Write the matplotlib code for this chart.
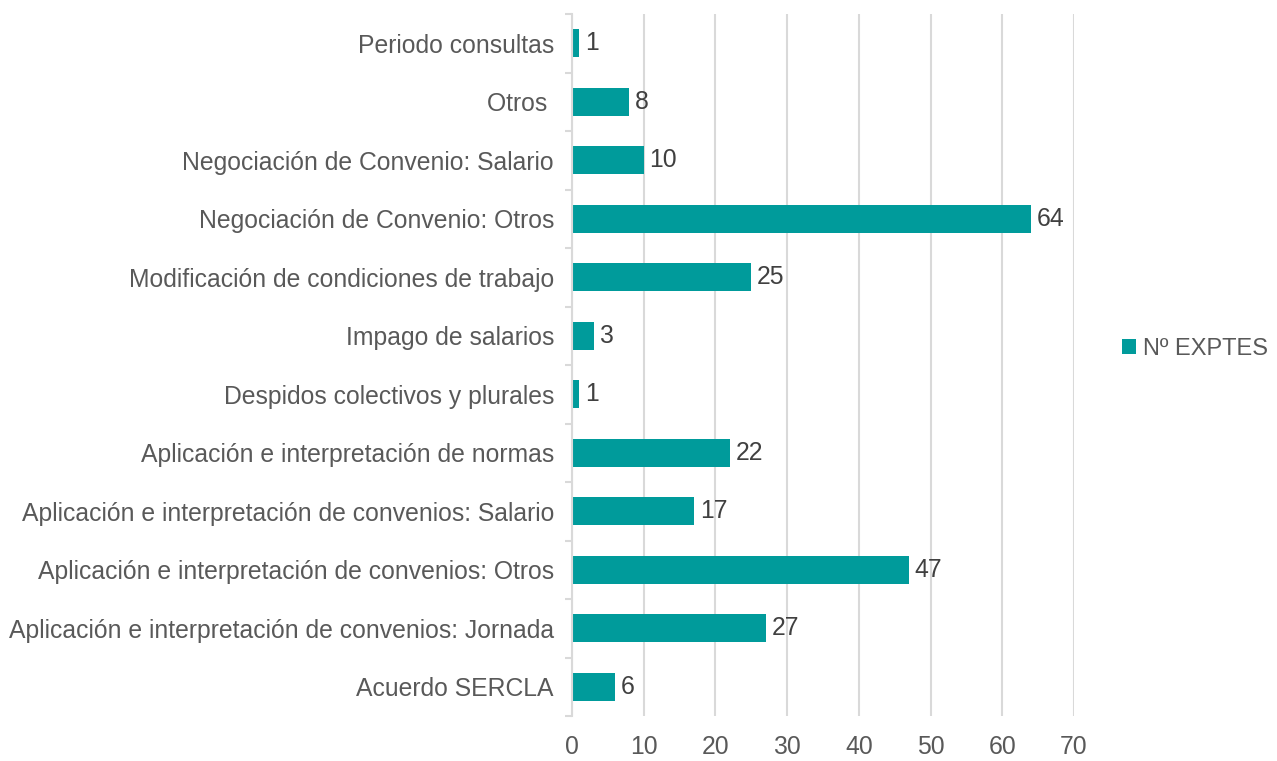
import matplotlib
matplotlib.use("Agg")
import matplotlib.pyplot as plt

categories = [
    "Acuerdo SERCLA",
    "Aplicación e interpretación de convenios: Jornada",
    "Aplicación e interpretación de convenios: Otros",
    "Aplicación e interpretación de convenios: Salario",
    "Aplicación e interpretación de normas",
    "Despidos colectivos y plurales",
    "Impago de salarios",
    "Modificación de condiciones de trabajo",
    "Negociación de Convenio: Otros",
    "Negociación de Convenio: Salario",
    "Otros ",
    "Periodo consultas",
]
values = [6, 27, 47, 17, 22, 1, 3, 25, 64, 10, 8, 1]
series_name = "Nº EXPTES"
xticks = [0, 10, 20, 30, 40, 50, 60, 70]

plt.rcParams['font.family'] = ['Liberation Sans', 'DejaVu Sans']
color = '#009B9B'
grid_c = '#D9D9D9'
text_c = '#595959'
fs = 17.8

fig = plt.figure(figsize=(12.77, 7.61), dpi=100)
ax = fig.add_axes([572/1277, 1-716/761, (1074-572)/1277, (716-14)/761])

ypos = list(range(len(categories)))
bars = ax.barh(ypos, values, height=0.48, color=color, label=series_name, zorder=3)
for y, v in zip(ypos, values):
    ax.text(v + 0.8, y, str(v), va='center', ha='left', fontsize=fs, color='#404040')

ax.set_xlim(0, 70)
ax.set_ylim(-0.5, len(categories) - 0.5)
ax.set_xticks(xticks)
ax.set_xticklabels([str(t) for t in xticks])
ax.set_yticks(ypos)
ax.set_yticklabels(categories)
ax.tick_params(axis='y', length=0, pad=13, labelsize=fs, labelcolor=text_c)
ax.tick_params(axis='x', length=0, pad=14, labelsize=fs, labelcolor=text_c)
# minor ticks at category boundaries
ax.set_yticks([i - 0.5 for i in range(len(categories) + 1)], minor=True)
ax.tick_params(axis='y', which='minor', length=5, color=grid_c, width=1.5)
ax.grid(axis='x', color=grid_c, linewidth=1.5, zorder=0)
for s in ['top', 'right', 'bottom']:
    ax.spines[s].set_visible(False)
ax.spines['left'].set_color(grid_c)
ax.spines['left'].set_linewidth(1.5)
ax.spines['left'].set_zorder(4)

leg = fig.legend(handles=[bars], labels=[series_name], loc='center left',
                 bbox_to_anchor=(1122/1277, 1-349/761), frameon=False,
                 fontsize=17, handlelength=0.6, handleheight=0.6, handletextpad=0.3,
                 borderaxespad=0, borderpad=0)
for t in leg.get_texts():
    t.set_color(text_c)

fig.savefig('out.png', dpi=100)
